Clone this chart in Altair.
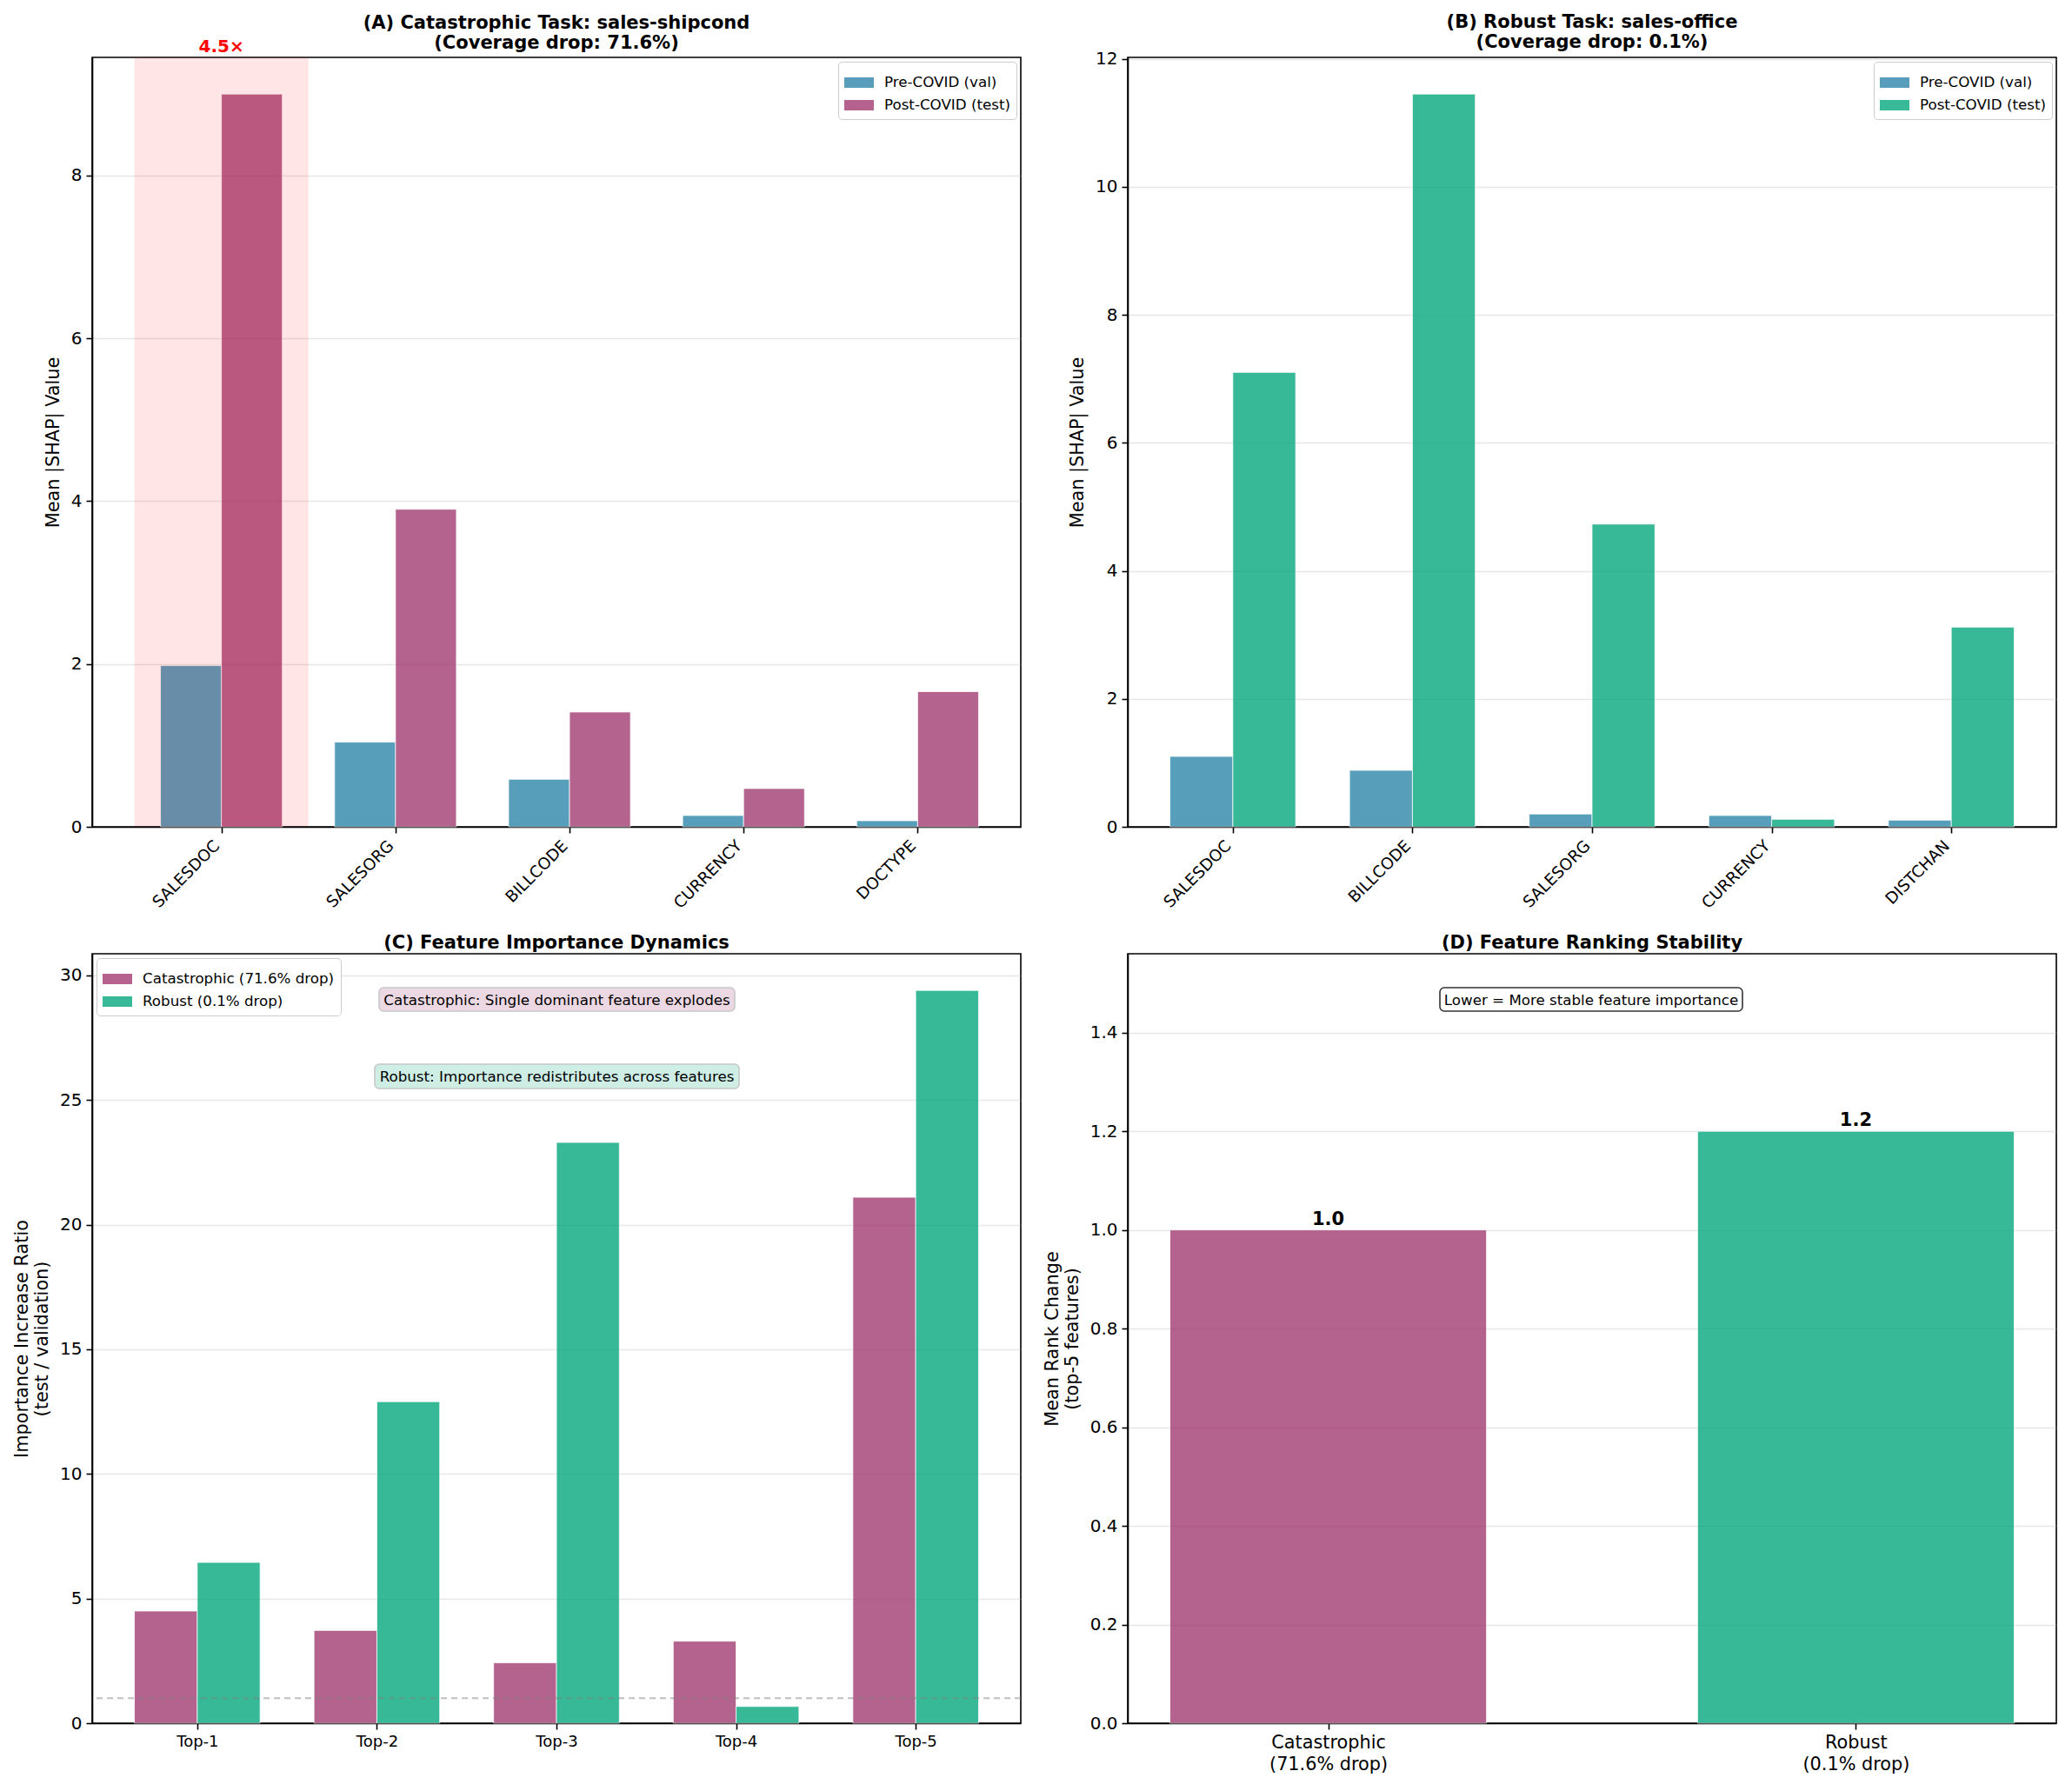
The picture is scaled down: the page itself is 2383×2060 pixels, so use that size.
import json
import altair as alt
import pandas as pd

# ---------------- data ----------------
features_a = ["SALESDOC", "SALESORG", "BILLCODE", "CURRENCY", "DOCTYPE"]
pre_a = [1.98, 1.04, 0.584, 0.139, 0.075]
post_a = [9.00, 3.90, 1.41, 0.47, 1.66]

features_b = ["SALESDOC", "BILLCODE", "SALESORG", "CURRENCY", "DISTCHAN"]
pre_b = [1.10, 0.883, 0.20, 0.177, 0.104]
post_b = [7.10, 11.45, 4.73, 0.118, 3.12]

ranks = ["Top-1", "Top-2", "Top-3", "Top-4", "Top-5"]
ratio_cat = [4.5, 3.72, 2.42, 3.29, 21.1]
ratio_rob = [6.45, 12.9, 23.3, 0.67, 29.4]

stab_labels = ["Catastrophic\n(71.6% drop)", "Robust\n(0.1% drop)"]
stab_values = [1.0, 1.2]

series_ab = ["Pre-COVID (val)", "Post-COVID (test)"]
series_c = ["Catastrophic (71.6% drop)", "Robust (0.1% drop)"]

highlight_ratio_text = "4.5×"

# ---------------- style ----------------
BLUE = "#2E86AB"
PURPLE = "#A23B72"
GREEN = "#06A77D"
FONT = "DejaVu Sans"
PW, PH = 1068, 885
BW = 0.35

LEGEND_COMMON = dict(
    title=None, offset=5, fillColor="rgba(255,255,255,0.8)", strokeColor="#cccccc",
    cornerRadius=4, padding=7, labelFontSize=16.7, labelFont=FONT, labelColor="black",
    symbolType="M-1,-0.35H1V0.35H-1Z", symbolSize=1156, symbolStrokeWidth=0,
    labelOffset=12, rowPadding=0, labelLimit=400,
)


def grouped(cats, a, b, names):
    rows = []
    for i, (va, vb) in enumerate(zip(a, b)):
        rows.append({"series": names[0], "x0": i - BW, "x1": i, "v": va})
        rows.append({"series": names[1], "x0": i, "x1": i + BW, "v": vb})
    return pd.DataFrame(rows)


def label_expr(cats):
    return json.dumps(cats).replace('"', "'") + "[datum.value]"


def yaxis(vals, title, fmt):
    return alt.Axis(values=vals, title=title, grid=True, gridColor="#b0b0b0",
                    gridOpacity=0.3, gridWidth=1.6, titlePadding=10, format=fmt)


def bar_layer(df, cats, xdom, ymax, yvals, ytitle, colors, names, angle, legend_orient, lsize):
    x = alt.X("x0:Q", scale=alt.Scale(domain=xdom, nice=False, zero=False),
              axis=alt.Axis(values=list(range(len(cats))), labelExpr=label_expr(cats),
                            title=None, grid=False, labelAngle=angle,
                            labelAlign="right" if angle else "center",
                            labelBaseline="top", labelFontSize=lsize,
                            labelOffset=-12 if angle else 0))
    return alt.Chart(df).mark_bar(opacity=0.8, stroke="white", strokeWidth=0.8).encode(
        x=x, x2="x1:Q",
        y=alt.Y("v:Q", scale=alt.Scale(domain=[0, ymax], nice=False),
                axis=yaxis(yvals, ytitle, "d")),
        y2=alt.datum(0),
        color=alt.Color("series:N", scale=alt.Scale(domain=names, range=colors),
                        sort=names,
                        legend=alt.Legend(orient=legend_orient, **LEGEND_COMMON)),
    )


# ---------------- panel A ----------------
df_a = grouped(features_a, pre_a, post_a, series_ab)
ymax_a = max(post_a) * 1.05
bars_a = bar_layer(df_a, features_a, [-0.7425, 4.5925], ymax_a, [0, 2, 4, 6, 8],
                   "Mean |SHAP| Value", [BLUE, PURPLE], series_ab, -45, "top-right", 18.5)
hi = 0
hl_df = pd.DataFrame({"x0": [hi - 0.5], "x1": [hi + 0.5], "t": [highlight_ratio_text], "xc": [hi]})
hl_a = alt.Chart(hl_df).mark_rect(color="red", opacity=0.1).encode(
    x="x0:Q", x2="x1:Q", y=alt.value(0), y2=alt.value(PH))
txt_a = alt.Chart(hl_df).mark_text(color="red", fontWeight="bold", fontSize=20, font=FONT,
                                   baseline="bottom", dy=-2).encode(
    x="xc:Q", y=alt.datum(ymax_a), text="t:N")
panel_a = alt.layer(bars_a, hl_a, txt_a).properties(
    width=PW, height=PH,
    title=alt.Title(["(A) Catastrophic Task: sales-shipcond", "(Coverage drop: 71.6%)"],
                    frame="group", offset=-16))

# ---------------- panel B ----------------
df_b = grouped(features_b, pre_b, post_b, series_ab)
ymax_b = max(post_b) * 1.05
bars_b = bar_layer(df_b, features_b, [-0.585, 4.585], ymax_b, [0, 2, 4, 6, 8, 10, 12],
                   "Mean |SHAP| Value", [BLUE, GREEN], series_ab, -45, "top-right", 18.5)
panel_b = bars_b.properties(
    width=PW, height=PH,
    title=alt.Title(["(B) Robust Task: sales-office", "(Coverage drop: 0.1%)"],
                    frame="group", offset=-1))

# ---------------- panel C ----------------
df_c = grouped(ranks, ratio_cat, ratio_rob, series_c)
ymax_c = max(ratio_rob) * 1.05
bars_c = bar_layer(df_c, ranks, [-0.585, 4.585], ymax_c, [0, 5, 10, 15, 20, 25, 30],
                   ["Importance Increase Ratio", "(test / validation)"],
                   [PURPLE, GREEN], series_c, 0, "top-left", 18)
rule_c = alt.Chart(pd.DataFrame({"y": [1.0]})).mark_rule(
    color="gray", opacity=0.5, strokeDash=[7, 5], strokeWidth=2).encode(y="y:Q")
notes = pd.DataFrame({
    "t": ["Catastrophic: Single dominant feature explodes",
          "Robust: Importance redistributes across features"],
    "x0": [330, 325], "x1": [739, 744], "y0": [39, 127], "y1": [66, 155],
    "fill": ["#ecd8e3", "#cdede5"],
})
n1 = notes.iloc[[0]]
n2 = notes.iloc[[1]]


def note_layers(nd, stroke):
    r = nd.iloc[0]
    box = alt.Chart(nd).mark_rect(fill=r["fill"], stroke=stroke, strokeWidth=1.6,
                                  cornerRadius=5).encode(
        x=alt.value(int(r["x0"])), x2=alt.value(int(r["x1"])),
        y=alt.value(int(r["y0"])), y2=alt.value(int(r["y1"])))
    txt = alt.Chart(nd).mark_text(fontSize=16.7, font=FONT, color="black").encode(
        x=alt.value((int(r["x0"]) + int(r["x1"])) / 2),
        y=alt.value((int(r["y0"]) + int(r["y1"])) / 2 + 1), text="t:N")
    return [box, txt]


panel_c = alt.layer(bars_c, rule_c, *note_layers(n1, "#c8c8c8"), *note_layers(n2, "#c8c8c8")).properties(
    width=PW, height=PH,
    title=alt.Title("(C) Feature Importance Dynamics", frame="group", offset=2))

# ---------------- panel D ----------------
stab_names = [s.split("\n") for s in stab_labels]
df_d = pd.DataFrame({"i": list(range(len(stab_values))), "v": stab_values,
                     "k": ["cat", "rob"]})
df_d["x0"] = df_d["i"] - 0.3
df_d["x1"] = df_d["i"] + 0.3
ymax_d = max(stab_values) * 1.3
xd = alt.X("x0:Q", scale=alt.Scale(domain=[-0.38, 1.38], nice=False, zero=False),
           axis=alt.Axis(values=[0, 1], labelExpr=json.dumps(stab_names).replace('"', "'") + "[datum.value]",
                         title=None, grid=False, labelAngle=0, labelBaseline="top",
                         labelFontSize=20.8, labelLineHeight=25))
bars_d = alt.Chart(df_d).mark_bar(opacity=0.8, stroke="white", strokeWidth=0.8).encode(
    x=xd, x2="x1:Q",
    y=alt.Y("v:Q", scale=alt.Scale(domain=[0, ymax_d], nice=False),
            axis=yaxis([0, 0.2, 0.4, 0.6, 0.8, 1.0, 1.2, 1.4],
                       ["Mean Rank Change", "(top-5 features)"], ".1f")),
    y2=alt.datum(0),
    color=alt.Color("k:N", scale=alt.Scale(domain=["cat", "rob"], range=[PURPLE, GREEN]), legend=None),
)
lab_d = alt.Chart(df_d).mark_text(fontWeight="bold", fontSize=21, font=FONT, color="black",
                                  baseline="bottom", dy=-2).encode(
    x="i:Q", y="v:Q", text=alt.Text("v:Q", format=".1f"))
note_d = pd.DataFrame({"t": ["Lower = More stable feature importance"]})
box_d = alt.Chart(note_d).mark_rect(fill="white", stroke="#333333", strokeWidth=1.6,
                                    cornerRadius=5).encode(
    x=alt.value(359), x2=alt.value(707), y=alt.value(39), y2=alt.value(66))
txt_d = alt.Chart(note_d).mark_text(fontSize=16.7, font=FONT, color="black").encode(
    x=alt.value(533), y=alt.value(53.5), text="t:N")
panel_d = alt.layer(bars_d, lab_d, box_d, txt_d).properties(
    width=PW, height=PH,
    title=alt.Title("(D) Feature Ranking Stability", frame="group", offset=2))

chart = alt.concat(panel_a, panel_b, panel_c, panel_d, columns=2,
                   spacing={"row": 24, "column": 22}).resolve_scale(
    color="independent"
).configure_view(stroke="black", strokeWidth=1.6).configure_axis(
    domainColor="black", domainWidth=1.6, tickColor="black", tickWidth=1.6, tickSize=7,
    labelFont=FONT, labelFontSize=20, labelColor="black", labelPadding=5,
    titleFont=FONT, titleFontSize=20.8, titleFontWeight="normal", titleColor="black",
).configure_title(
    font=FONT, fontSize=21, fontWeight="bold", color="black", anchor="middle",
    lineHeight=23,
)

chart.save("out.html", embed_options={"renderer": "svg", "actions": False})
